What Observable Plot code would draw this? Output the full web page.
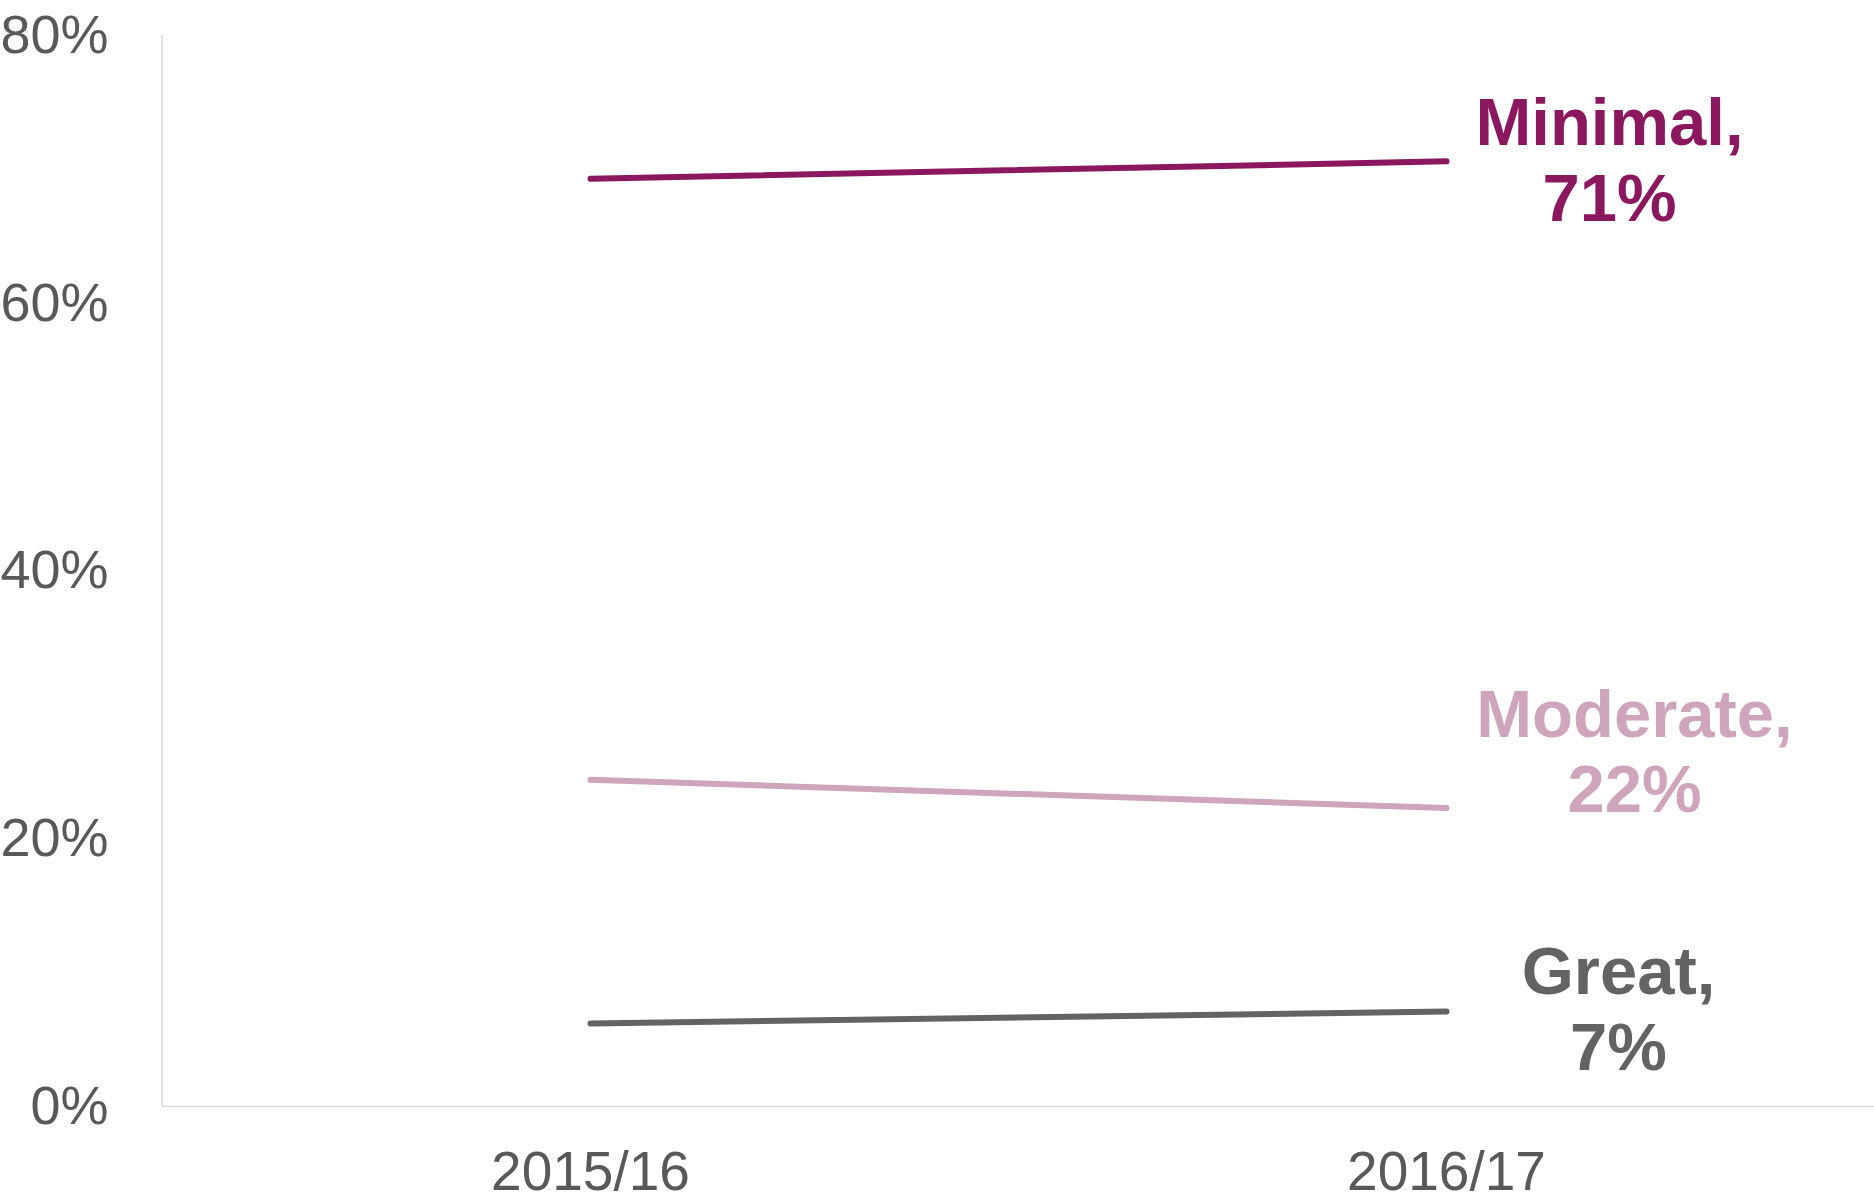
<!DOCTYPE html>
<html>
<head>
<meta charset="utf-8">
<script src="https://cdn.jsdelivr.net/npm/d3@7"></script>
<script src="https://cdn.jsdelivr.net/npm/@observablehq/plot@0.6"></script>
<style>
  html, body { margin: 0; padding: 0; background: #fff; }
  svg { display: block; }
</style>
</head>
<body>
<div id="chart"></div>
<script>
// ---- data ----
const years = ["2015/16", "2016/17"];
const seriesNames = ["Minimal", "Moderate", "Great"];
const minimalValues = [69.3, 70.6];
const moderateValues = [24.4, 22.3];
const greatValues = [6.2, 7.1];
const yTicks = [0, 20, 40, 60, 80];

// ---- styling (kept separate from data) ----
const colors = { Minimal: "#8B185E", Moderate: "#CFA5BC", Great: "#636363" };
const labelOffset = {
  Minimal: { dx: 163, dy: -70 },
  Moderate: { dx: 188, dy: -125 },
  Great: { dx: 172, dy: -71 }
};

const valuesBySeries = { Minimal: minimalValues, Moderate: moderateValues, Great: greatValues };
const rows = seriesNames.flatMap(s => years.map((y, i) => ({ series: s, year: y, value: valuesBySeries[s][i] })));
const lastRows = seriesNames.map(s => ({ series: s, year: years[years.length - 1], value: valuesBySeries[s][years.length - 1] }));

const font = "'Liberation Sans', Arial, sans-serif";

// left axis line drawn at the frame's left edge, spanning the y scale range
function leftAxisLine(index, scales, values, dims) {
  const ns = "http://www.w3.org/2000/svg";
  const line = document.createElementNS(ns, "line");
  const x = dims.marginLeft;
  const [r0, r1] = scales.y.range ? [scales.y(0), scales.y(80)] : [dims.height - dims.marginBottom, dims.marginTop];
  line.setAttribute("x1", x); line.setAttribute("x2", x);
  line.setAttribute("y1", r0); line.setAttribute("y2", r1);
  line.setAttribute("stroke", "#D9D9D9");
  line.setAttribute("stroke-width", 1.5);
  return line;
}

const chart = Plot.plot({
  width: 1874,
  height: 1196,
  marginLeft: 162,
  marginRight: 0,
  marginTop: 35,
  marginBottom: 90,
  style: { fontFamily: font, background: "#fff", overflow: "visible" },
  x: { type: "point", domain: years, padding: 0.5 },
  y: { domain: [0, 80] },
  marks: [
    leftAxisLine,
    Plot.ruleY([0], { stroke: "#D9D9D9", strokeWidth: 1.5 }),
    Plot.axisY({
      ticks: yTicks, tickSize: 0, tickPadding: 54,
      tickFormat: d => d + "%", fontSize: 54, fill: "#595959", label: null
    }),
    Plot.axisX({
      tickSize: 0, tickPadding: 44, fontSize: 55, fill: "#595959", label: null
    }),
    Plot.line(rows, {
      x: "year", y: "value", z: "series",
      stroke: d => colors[d.series], strokeWidth: 6, strokeLinecap: "round"
    }),
    ...lastRows.map(r => Plot.text([r], {
      x: "year", y: "value",
      text: d => `${d.series},\n${Math.round(d.value)}%`,
      fill: colors[r.series], fontWeight: "bold", fontSize: 67,
      lineHeight: 1.13, lineAnchor: "top", textAnchor: "middle",
      dx: labelOffset[r.series].dx, dy: labelOffset[r.series].dy
    }))
  ]
});
document.getElementById("chart").appendChild(chart);
</script>
</body>
</html>
